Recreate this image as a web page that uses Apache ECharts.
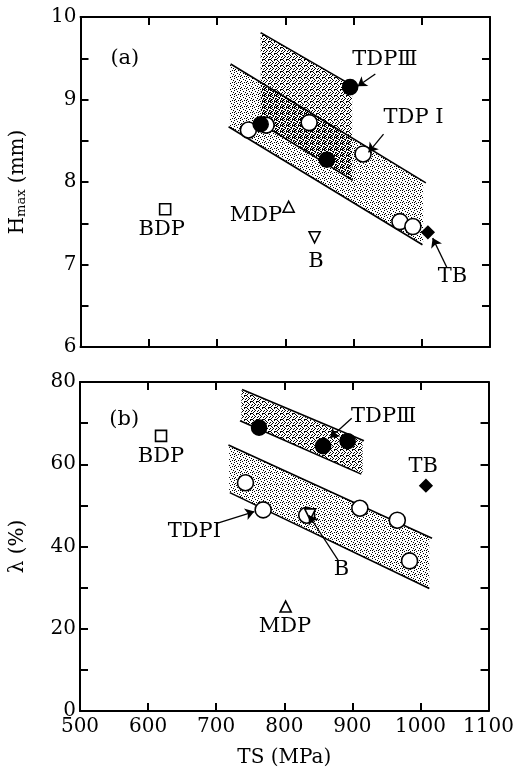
<!DOCTYPE html>
<html>
<head>
<meta charset="utf-8">
<script src="https://cdn.jsdelivr.net/npm/echarts@6/dist/echarts.min.js"></script>
<style>
  html, body { margin: 0; padding: 0; background: #fff; }
  #chart { width: 517px; height: 771px; }
</style>
</head>
<body>
<div id="chart"></div>
<script>
// x axis (TS, MPa)
var tsTicks = [500, 600, 700, 800, 900, 1000, 1100];

// panel (a): Hmax (mm) vs TS
var tdp1A = [[746, 8.63], [772, 8.69], [835, 8.72], [914, 8.34], [968, 7.52], [987, 7.46]];
var tdp3A = [[764, 8.70], [861, 8.27], [895, 9.15]];
var tbA = [[1009, 7.39]];
var bdpA = [[624, 7.67]];
var mdpA = [[805, 7.70]];
var bA = [[843, 7.33]];

// panel (b): lambda (%) vs TS
var tdp1B = [[743, 55.5], [769, 48.9], [833, 47.6], [911, 49.3], [966, 46.4], [984, 36.5]];
var tdp3B = [[763, 68.9], [857, 64.4], [893, 65.6]];
var tbB = [[1008, 54.8]];
var bdpB = [[619, 66.9]];
var mdpB = [[802, 25.4]];
var bB = [[838, 47.8]];

// scatter bands (edge lines + shaded area)
var bandTdp1A = { upper: [[720, 9.43], [1006, 7.99]], lower: [[717, 8.67], [1001, 7.24]],
    area: [[719, 9.43], [1002, 8.01], [1002, 7.24], [719, 8.66]] };
var bandTdp3A = { upper: [[764, 9.81], [896, 9.18]], lower: [[776, 8.65], [899, 8.02]],
    area: [[764, 9.81], [898, 9.17], [898, 8.02], [764, 8.71]] };
var bandTdp1B = { upper: [[718, 64.7], [1017, 42.0]], lower: [[720, 53.1], [1013, 29.8]],
    area: [[719, 64.6], [1013, 42.3], [1013, 29.8], [719, 53.2]] };
var bandTdp3B = { upper: [[738, 78.2], [917, 65.7]], lower: [[735, 70.6], [913, 57.6]],
    area: [[737, 78.0], [915, 65.6], [915, 57.5], [737, 70.4]] };

// text notes and arrows
var notesA = [
    { name: '(a)', value: [565, 9.50] },
    { name: 'TDPⅢ', value: [946, 9.48] },
    { name: 'TDP I', value: [988, 8.78] },
    { name: 'TB', value: [1045, 6.85] },
    { name: 'BDP', value: [619, 7.42] },
    { name: 'MDP', value: [757, 7.59] },
    { name: 'B', value: [845, 7.03] }
];
var notesB = [
    { name: '(b)', value: [565, 70.8] },
    { name: 'TDPⅢ', value: [946, 71.6] },
    { name: 'TB', value: [1004, 59.4] },
    { name: 'BDP', value: [619, 61.8] },
    { name: 'TDPI', value: [668, 43.6] },
    { name: 'B', value: [884, 34.3] },
    { name: 'MDP', value: [801, 20.5] }
];
var arrowsA = [
    [[932, 9.31], [906, 9.16]],
    [[944, 8.58], [922, 8.36]],
    [[1037, 6.96], [1016, 7.32]]
];
var arrowsB = [
    [[899, 71.2], [867, 66.4]],
    [[701, 45.6], [756, 48.5]],
    [[879, 36.7], [836, 47.6]]
];

var FONT = 'DejaVu Serif';
var chartDom = document.getElementById('chart');
var myChart = echarts.init(chartDom);

// stipple fill made of single dark pixels
function dotPattern(dots) {
    var c = document.createElement('canvas');
    c.width = 6;
    c.height = 6;
    var ctx = c.getContext('2d');
    ctx.fillStyle = '#000';
    dots.forEach(function (d) { ctx.fillRect(d[0], d[1], 1, 1); });
    return { image: c, repeat: 'repeat' };
}
var lightFill = dotPattern([[0, 0], [3, 1], [5, 2], [1, 3], [4, 4], [2, 5], [0, 4]]);
var darkFill = dotPattern([[1, 0], [4, 0], [2, 1], [0, 2], [3, 2], [5, 3], [2, 3], [0, 5], [4, 5], [1, 4], [5, 5]]);

function xAx(grid, pos, labels) {
    return {
        type: 'value', gridIndex: grid, position: pos, min: 500, max: 1100, interval: 100,
        axisLine: { show: true, onZero: false, lineStyle: { color: '#000', width: 2 } },
        axisTick: { show: true, inside: true, length: 8, lineStyle: { color: '#000', width: 2 } },
        splitLine: { show: false },
        axisLabel: { show: labels, color: '#000', fontFamily: FONT, fontSize: 20, margin: 6,
            formatter: function (v) { return String(v); } },
        name: labels ? 'TS (MPa)' : '', nameLocation: 'middle', nameGap: 37,
        nameTextStyle: { color: '#000', fontFamily: FONT, fontSize: 20 }
    };
}

function yAx(grid, pos, min, max, step, labelStep, name) {
    return {
        type: 'value', gridIndex: grid, position: pos, min: min, max: max, interval: step,
        axisLine: { show: true, onZero: false, lineStyle: { color: '#000', width: 2 } },
        axisTick: { show: true, inside: true, length: 8, lineStyle: { color: '#000', width: 2 } },
        splitLine: { show: false },
        axisLabel: {
            show: pos === 'left', color: '#000', fontFamily: FONT, fontSize: 20, margin: 4,
            formatter: function (v) { return Math.abs(v / labelStep - Math.round(v / labelStep)) < 1e-6 ? String(v) : ''; }
        },
        name: pos === 'left' ? name : '', nameLocation: 'middle', nameRotate: 90, nameGap: 52,
        nameTextStyle: {
            color: '#000', fontFamily: FONT, fontSize: 20,
            rich: { sub: { fontFamily: FONT, fontSize: 13, verticalAlign: 'bottom', padding: [8, 0, 0, 0] } }
        }
    };
}

function bandSeries(band, ax, fill) {
    var out = [];
    out.push({
        type: 'custom', xAxisIndex: ax, yAxisIndex: ax, silent: true, z: 1,
        data: [0],
        renderItem: function (params, api) {
            var pts = band.area.map(function (p) { return api.coord(p); });
            return {
                type: 'polygon',
                shape: { points: pts },
                style: { fill: fill, stroke: null }
            };
        }
    });
    [band.upper, band.lower].forEach(function (ln) {
        out.push({
            type: 'line', xAxisIndex: ax, yAxisIndex: ax, data: ln, symbol: 'none', silent: true, z: 2,
            lineStyle: { color: '#000', width: 1.6 }
        });
    });
    return out;
}

function pointSeries(data, ax, symbol, filled, size, rotate) {
    return {
        type: 'scatter', xAxisIndex: ax, yAxisIndex: ax, data: data, symbol: symbol,
        symbolSize: size, symbolRotate: rotate || 0, z: filled ? 5 : 4,
        itemStyle: { color: filled ? '#000' : '#fff', borderColor: '#000', borderWidth: 1.6, opacity: 1 }
    };
}

function noteSeries(notes, ax) {
    return {
        type: 'custom', xAxisIndex: ax, yAxisIndex: ax, silent: true, z: 6,
        data: notes,
        renderItem: function (params, api) {
            var n = notes[params.dataIndex];
            var p = api.coord(n.value);
            return {
                type: 'text',
                style: {
                    text: n.name, x: p[0], y: p[1], fill: '#000',
                    font: '21px "' + FONT + '"', align: 'center', verticalAlign: 'middle'
                }
            };
        }
    };
}

function arrowSeries(arrows, ax) {
    return {
        type: 'lines', coordinateSystem: 'cartesian2d', xAxisIndex: ax, yAxisIndex: ax, z: 6,
        symbol: ['none', 'arrow'], symbolSize: 9,
        lineStyle: { color: '#000', width: 1.3, opacity: 1 },
        data: arrows.map(function (a) { return { coords: a }; })
    };
}

var series = [];
series = series.concat(bandSeries(bandTdp1A, 0, lightFill));
series = series.concat(bandSeries(bandTdp3A, 0, darkFill));
series = series.concat(bandSeries(bandTdp1B, 2, lightFill));
series = series.concat(bandSeries(bandTdp3B, 2, darkFill));
series.push(
    pointSeries(tdp1A, 0, 'circle', false, 16),
    pointSeries(tdp3A, 0, 'circle', true, 15),
    pointSeries(tbA, 0, 'diamond', true, 12),
    pointSeries(bdpA, 0, 'rect', false, 11),
    pointSeries(mdpA, 0, 'triangle', false, 11),
    pointSeries(bA, 0, 'triangle', false, 11, 180),
    pointSeries(tdp1B, 2, 'circle', false, 16),
    pointSeries(tdp3B, 2, 'circle', true, 15),
    pointSeries(tbB, 2, 'diamond', true, 12),
    pointSeries(bdpB, 2, 'rect', false, 11),
    pointSeries(mdpB, 2, 'triangle', false, 11),
    pointSeries(bB, 2, 'triangle', false, 11, 180),
    noteSeries(notesA, 0),
    noteSeries(notesB, 2),
    arrowSeries(arrowsA, 0),
    arrowSeries(arrowsB, 2)
);

var option = {
    animation: false,
    backgroundColor: '#fff',
    textStyle: { fontFamily: FONT },
    grid: [
        { left: 78, top: 17, width: 412, height: 330 },
        { left: 78, top: 382, width: 412, height: 329 }
    ],
    xAxis: [xAx(0, 'bottom', false), xAx(0, 'top', false), xAx(1, 'bottom', true), xAx(1, 'top', false)],
    yAxis: [
        yAx(0, 'left', 6, 10, 0.5, 1, 'H{sub|max} (mm)'),
        yAx(0, 'right', 6, 10, 0.5, 1, ''),
        yAx(1, 'left', 0, 80, 10, 20, 'λ (%)'),
        yAx(1, 'right', 0, 80, 10, 20, '')
    ],
    series: series
};

option && myChart.setOption(option);
</script>
</body>
</html>
